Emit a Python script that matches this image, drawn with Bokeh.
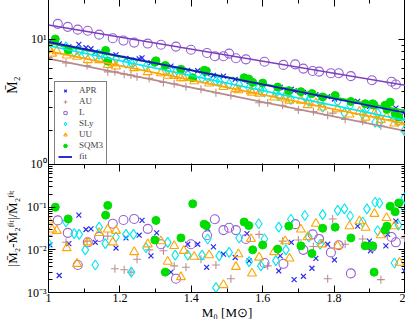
from bokeh.plotting import figure
from bokeh.models import LogAxis, LinearAxis, FixedTicker, Range1d, Legend, LegendItem
from bokeh.layouts import column
from bokeh.embed import file_html
from bokeh.resources import INLINE

# ---------------- data ----------------
x_ticks = [1.0, 1.2, 1.4, 1.6, 1.8, 2.0]
x_tick_labels = ["1", "1.2", "1.4", "1.6", "1.8", "2"]
top_y_ticks = [1, 10]
top_y_labels = ["10⁰", "10¹"]
bot_y_ticks = [0.001, 0.01, 0.1]
bot_y_labels = ["10⁻³", "10⁻²", "10⁻¹"]

fit_m0 = [1.0, 2.0]
fit_APR = [9.5, 2.75]
fit_AU = [7.1, 2.0]
fit_L = [12.8, 4.45]
fit_SLy = [8.9, 2.4]
fit_UU = [8.1, 2.27]
fit_SQM3 = [9.3, 2.85]

APR_m0 = [1.004, 1.030, 1.057, 1.085, 1.105, 1.119, 1.131, 1.189, 1.217, 1.254, 1.262, 1.287, 1.303, 1.343,
          1.390, 1.418, 1.443, 1.446, 1.462, 1.490, 1.523, 1.556, 1.562, 1.645, 1.649, 1.680, 1.688, 1.714,
          1.738, 1.749, 1.782, 1.801, 1.866, 1.899, 1.902, 1.945, 1.950, 1.973, 1.997]
APR_m2 = [9.57, 9.17, 8.73, 9.11, 8.59, 8.45, 7.96, 7.59, 7.12, 7.08, 7.20, 6.61, 6.69, 6.23,
          5.78, 5.74, 5.47, 5.64, 5.30, 5.22, 4.94, 4.88, 4.76, 4.26, 4.28, 4.15, 4.04, 3.93,
          3.79, 3.78, 3.65, 3.50, 3.36, 3.07, 3.14, 2.91, 3.00, 2.98, 2.77]
APR_res = [0.013, 0.0025, 0.014, 0.065, 0.030, 0.031, 0.015, 0.011, 0.019, 0.022, 0.049, 0.0072, 0.025, 0.0030,
           0.0135, 0.0135, 0.0039, 0.031, 0.0117, 0.0079, 0.0066, 0.024, 0.0055, 0.0032, 0.0072, 0.015, 0.0020, 0.0024,
           0.0037, 0.0063, 0.0135, 0.0058, 0.036, 0.016, 0.0095, 0.0124, 0.023, 0.047, 0.0032]

AU_m0 = [1.000, 1.049, 1.108, 1.166, 1.186, 1.212, 1.231, 1.248, 1.282, 1.322, 1.352, 1.385, 1.427,
         1.469, 1.511, 1.590, 1.614, 1.656, 1.700, 1.742, 1.782, 1.796, 1.831, 1.880, 1.931, 1.997]
AU_m2 = [7.26, 6.57, 6.29, 5.63, 5.63, 5.41, 5.32, 5.16, 5.02, 4.68, 4.57, 4.34, 4.16,
         3.90, 3.72, 3.28, 3.27, 3.14, 2.88, 2.81, 2.63, 2.73, 2.45, 2.37, 2.18, 1.97]
AU_res = [0.022, 0.015, 0.016, 0.021, 0.0036, 0.0034, 0.0030, 0.006, 0.010, 0.0095, 0.0042, 0.0039, 0.006,
          0.0044, 0.0021, 0.023, 0.0042, 0.016, 0.017, 0.012, 0.0021, 0.053, 0.0135, 0.018, 0.0020, 0.019]

L_m0 = [1.026, 1.054, 1.082, 1.110, 1.142, 1.180, 1.210, 1.240, 1.278, 1.315, 1.357, 1.399, 1.444, 1.466, 1.490,
        1.506, 1.525, 1.553, 1.605, 1.658, 1.691, 1.714, 1.740, 1.758, 1.791, 1.813, 1.847, 1.906, 1.961, 1.973]
L_m2 = [13.06, 12.39, 11.79, 11.57, 10.80, 10.15, 9.74, 9.40, 9.24, 9.06, 8.76, 8.29, 7.83, 7.41, 7.41,
        7.75, 7.14, 7.01, 6.72, 6.36, 6.42, 5.96, 5.72, 5.65, 5.50, 5.49, 5.22, 4.86, 4.73, 4.51]
L_res = [0.049, 0.025, 0.0044, 0.015, 0.020, 0.041, 0.050, 0.053, 0.031, 0.0135, 0.0021, 0.0135, 0.022, 0.052, 0.029,
         0.033, 0.029, 0.018, 0.0049, 0.0047, 0.040, 0.010, 0.023, 0.018, 0.0087, 0.0128, 0.0028, 0.0117, 0.020, 0.015]

SLy_m0 = [1.000, 1.049, 1.072, 1.086, 1.103, 1.131, 1.142, 1.159, 1.189, 1.217, 1.232, 1.238, 1.273, 1.334,
          1.355, 1.390, 1.430, 1.446, 1.469, 1.478, 1.506, 1.534, 1.562, 1.589, 1.595, 1.605, 1.637, 1.645,
          1.665, 1.679, 1.718, 1.729, 1.761, 1.768, 1.810, 1.829, 1.845, 1.880, 1.892, 1.915, 1.922, 1.927,
          1.969, 1.980, 1.995, 1.997]
SLy_m2 = [9.02, 8.72, 7.90, 8.13, 7.70, 7.53, 7.64, 7.13, 7.09, 6.55, 6.59, 6.67, 6.15, 5.83,
          5.55, 5.38, 5.03, 5.05, 4.80, 4.79, 4.55, 4.50, 4.24, 4.28, 4.06, 3.96, 3.88, 3.69,
          3.76, 3.47, 3.69, 3.35, 3.33, 3.03, 3.34, 2.73, 3.12, 2.68, 3.01, 2.33, 2.73, 2.31,
          2.51, 2.37, 2.66, 2.01]
SLy_res = [0.014, 0.045, 0.024, 0.023, 0.010, 0.0044, 0.034, 0.014, 0.020, 0.023, 0.003, 0.023, 0.0112, 0.015,
           0.0075, 0.0075, 0.0075, 0.018, 0.0013, 0.0072, 0.0087, 0.019, 0.0053, 0.041, 0.0042, 0.018, 0.0056, 0.034,
           0.010, 0.052, 0.064, 0.020, 0.0135, 0.067, 0.084, 0.091, 0.062, 0.045, 0.091, 0.13, 0.028, 0.125,
           0.0049, 0.038, 0.10, 0.165]

UU_m0 = [1.000, 1.010, 1.023, 1.051, 1.080, 1.110, 1.142, 1.166, 1.180, 1.189, 1.240, 1.278, 1.315, 1.334,
         1.352, 1.371, 1.379, 1.408, 1.450, 1.490, 1.525, 1.532, 1.567, 1.570, 1.590, 1.632, 1.663, 1.675,
         1.707, 1.726, 1.749, 1.766, 1.810, 1.843, 1.871, 1.888, 1.913, 1.931, 1.947, 1.969, 1.983]
UU_m2 = [8.50, 7.76, 8.09, 7.51, 7.35, 6.93, 6.93, 6.36, 6.54, 6.19, 6.02, 5.61, 5.51, 5.27,
         5.24, 5.04, 5.05, 4.79, 4.60, 4.33, 4.17, 4.09, 4.01, 3.91, 3.85, 3.60, 3.54, 3.41,
         3.40, 3.15, 3.25, 3.02, 2.93, 2.67, 2.80, 2.53, 2.71, 2.43, 2.56, 2.28, 2.33]
UU_res = [0.049, 0.030, 0.028, 0.011, 0.0047, 0.015, 0.025, 0.030, 0.015, 0.028, 0.0089, 0.0135, 0.016, 0.0053,
          0.0124, 0.0023, 0.0095, 0.0069, 0.0075, 0.0015, 0.0040, 0.0079, 0.018, 0.0028, 0.0066, 0.0089, 0.016, 0.0063,
          0.030, 0.020, 0.041, 0.0135, 0.0124, 0.036, 0.047, 0.033, 0.070, 0.022, 0.056, 0.036, 0.0050]

SQM3_m0 = [1.019, 1.055, 1.160, 1.166, 1.298, 1.301, 1.327, 1.371, 1.404, 1.436, 1.442, 1.548, 1.561, 1.572, 1.600,
           1.642, 1.673, 1.707, 1.738, 1.768, 1.803, 1.847, 1.887, 1.908, 1.912, 1.943, 1.948, 1.957, 1.971, 1.981]
SQM3_m2 = [10.0, 8.25, 8.20, 6.80, 6.65, 6.83, 6.30, 5.89, 5.08, 5.78, 5.72, 5.08, 4.97, 4.68, 4.63,
           4.31, 4.05, 3.98, 3.85, 3.63, 3.72, 3.35, 3.22, 3.22, 3.15, 3.14, 2.92, 3.31, 2.72, 2.55]
SQM3_res = [0.10, 0.053, 0.065, 0.11, 0.017, 0.049, 0.003, 0.019, 0.12, 0.040, 0.037, 0.045, 0.037, 0.010, 0.013,
            0.0104, 0.036, 0.0124, 0.0082, 0.032, 0.034, 0.019, 0.0124, 0.0124, 0.003, 0.029, 0.036, 0.105, 0.078, 0.126]

# ---------------- style ----------------
FONT = "Liberation Serif"
C_APR = "#2a2af0"
C_AU = "#bc8f8f"
C_L = "#9661d0"
C_SLY = "#00e8f0"
C_UU = "#ffa500"
C_SQM3 = "#00dd00"
C_FIT = "#1818c8"
C_LLINE = "#7a3fbf"
C_AULINE = "#b88a8a"

x_minor = [1.1, 1.3, 1.5, 1.7, 1.9]
top_minor = [m * 10 ** e for e in (0, 1) for m in range(2, 10)]
bot_minor = [m * 10.0 ** e for e in (-3, -2, -1) for m in range(2, 10)]


def style_axis(ax, show_labels):
    ax.major_tick_in = 7
    ax.major_tick_out = 0
    ax.minor_tick_in = 4
    ax.minor_tick_out = 0
    ax.axis_line_color = "black"
    ax.major_tick_line_color = "black"
    ax.minor_tick_line_color = "black"
    ax.major_label_text_font = FONT
    ax.major_label_text_font_size = "12px"
    ax.major_label_text_color = "black"
    ax.axis_label_text_font = FONT
    ax.axis_label_text_font_style = "normal"
    ax.axis_label_text_font_size = "13px"
    ax.axis_label_text_color = "black"
    if not show_labels:
        ax.major_label_text_font_size = "1px"
        ax.major_label_text_color = None
        ax.major_label_standoff = 0
    else:
        ax.major_label_standoff = 2


def make_fig(height, yr):
    f = figure(width=404, height=height, x_range=Range1d(1, 2), y_range=yr, y_axis_type="log",
               output_backend="svg", toolbar_location=None,
               min_border_left=44, min_border_right=0, min_border_top=0, min_border_bottom=0)
    f.grid.visible = False
    f.outline_line_color = "black"
    f.outline_line_width = 1
    f.background_fill_color = "white"
    return f


x_over = {t: l for t, l in zip(x_ticks, x_tick_labels)}

# ---------------- top panel ----------------
p1 = make_fig(171, Range1d(1, 20))
p1.xaxis.ticker = FixedTicker(ticks=x_ticks, minor_ticks=x_minor)
style_axis(p1.xaxis[0], False)
p1.yaxis.ticker = FixedTicker(ticks=top_y_ticks, minor_ticks=top_minor)
p1.yaxis.major_label_overrides = {t: l for t, l in zip(top_y_ticks, top_y_labels)}
style_axis(p1.yaxis[0], True)
p1.yaxis.axis_label = "M̄₂"
p1.yaxis.axis_label_text_font_size = "14px"
p1.yaxis.axis_label_standoff = 8

ax_r1 = LogAxis(ticker=FixedTicker(ticks=top_y_ticks, minor_ticks=top_minor))
style_axis(ax_r1, False)
p1.add_layout(ax_r1, "right")
ax_t1 = LinearAxis(ticker=FixedTicker(ticks=x_ticks, minor_ticks=x_minor))
style_axis(ax_t1, False)
p1.add_layout(ax_t1, "above")

r_apr = p1.scatter(APR_m0, APR_m2, marker="x", size=7, line_color=C_APR, line_width=1.2)
r_au = p1.scatter(AU_m0, AU_m2, marker="cross", size=8, line_color=C_AU, line_width=1.1)
r_l = p1.scatter(L_m0, L_m2, marker="circle", size=9, fill_color=None, line_color=C_L, line_width=1.1)
r_sly = p1.scatter(SLy_m0, SLy_m2, marker="diamond", size=10, fill_color=None, line_color=C_SLY, line_width=1.1)
r_uu = p1.scatter(UU_m0, UU_m2, marker="triangle", size=9, fill_color=None, line_color=C_UU, line_width=1.1)
r_sq = p1.scatter(SQM3_m0, SQM3_m2, marker="circle", size=8, fill_color=C_SQM3, line_color=C_SQM3)

p1.line(fit_m0, fit_AU, line_color=C_AULINE, line_width=1.6)
p1.line(fit_m0, fit_UU, line_color=C_UU, line_width=1.6)
p1.line(fit_m0, fit_SLy, line_color=C_SLY, line_width=1.6)
p1.line(fit_m0, fit_SQM3, line_color=C_SQM3, line_width=1.6)
p1.line(fit_m0, fit_L, line_color=C_LLINE, line_width=1.6)
r_fit = p1.line(fit_m0, fit_APR, line_color=C_FIT, line_width=1.8)

legend = Legend(items=[
    LegendItem(label="APR", renderers=[r_apr]),
    LegendItem(label="AU", renderers=[r_au]),
    LegendItem(label="L", renderers=[r_l]),
    LegendItem(label="SLy", renderers=[r_sly]),
    LegendItem(label="UU", renderers=[r_uu]),
    LegendItem(label="SQM3", renderers=[r_sq]),
    LegendItem(label="fit", renderers=[r_fit]),
], location=(6, 5))
legend.border_line_color = "black"
legend.border_line_width = 1
legend.background_fill_alpha = 1
legend.label_text_font = FONT
legend.label_text_font_size = "9px"
legend.label_height = 9
legend.glyph_height = 9
legend.glyph_width = 14
legend.label_standoff = 7
legend.spacing = 1
legend.padding = 3
legend.margin = 0
p1.add_layout(legend)

# ---------------- bottom panel ----------------
p2 = make_fig(158, Range1d(0.001, 1))
p2.border_fill_alpha = 0
p2.styles = {"margin-top": "-6px"}
p2.xaxis.ticker = FixedTicker(ticks=x_ticks, minor_ticks=x_minor)
p2.xaxis.major_label_overrides = x_over
style_axis(p2.xaxis[0], True)
p2.xaxis.major_label_standoff = 1
p2.xaxis.axis_label = "M₀ [M⊙]"
p2.xaxis.axis_label_standoff = 0
p2.yaxis.ticker = FixedTicker(ticks=bot_y_ticks, minor_ticks=bot_minor)
p2.yaxis.major_label_overrides = {t: l for t, l in zip(bot_y_ticks, bot_y_labels)}
style_axis(p2.yaxis[0], True)
p2.yaxis.axis_label = "|M̄₂-M̄₂ᶠⁱᵗ|/M̄₂ᶠⁱᵗ"
p2.yaxis.axis_label_standoff = 4

ax_r2 = LogAxis(ticker=FixedTicker(ticks=bot_y_ticks + [1], minor_ticks=bot_minor))
style_axis(ax_r2, False)
p2.add_layout(ax_r2, "right")
ax_t2 = LinearAxis(ticker=FixedTicker(ticks=x_ticks, minor_ticks=x_minor))
style_axis(ax_t2, False)
p2.add_layout(ax_t2, "above")

p2.scatter(APR_m0, APR_res, marker="x", size=7, line_color=C_APR, line_width=1.2)
p2.scatter(AU_m0, AU_res, marker="cross", size=8, line_color=C_AU, line_width=1.1)
p2.scatter(L_m0, L_res, marker="circle", size=9, fill_color=None, line_color=C_L, line_width=1.1)
p2.scatter(SLy_m0, SLy_res, marker="diamond", size=10, fill_color=None, line_color=C_SLY, line_width=1.1)
p2.scatter(UU_m0, UU_res, marker="triangle", size=9, fill_color=None, line_color=C_UU, line_width=1.1)
p2.scatter(SQM3_m0, SQM3_res, marker="circle", size=8, fill_color=C_SQM3, line_color=C_SQM3)

layout = column(p1, p2, spacing=0,
                styles={"margin-top": "-1px", "margin-left": "1px", "margin-bottom": "-20px"})

open("out.html", "w").write(file_html(layout, INLINE))
